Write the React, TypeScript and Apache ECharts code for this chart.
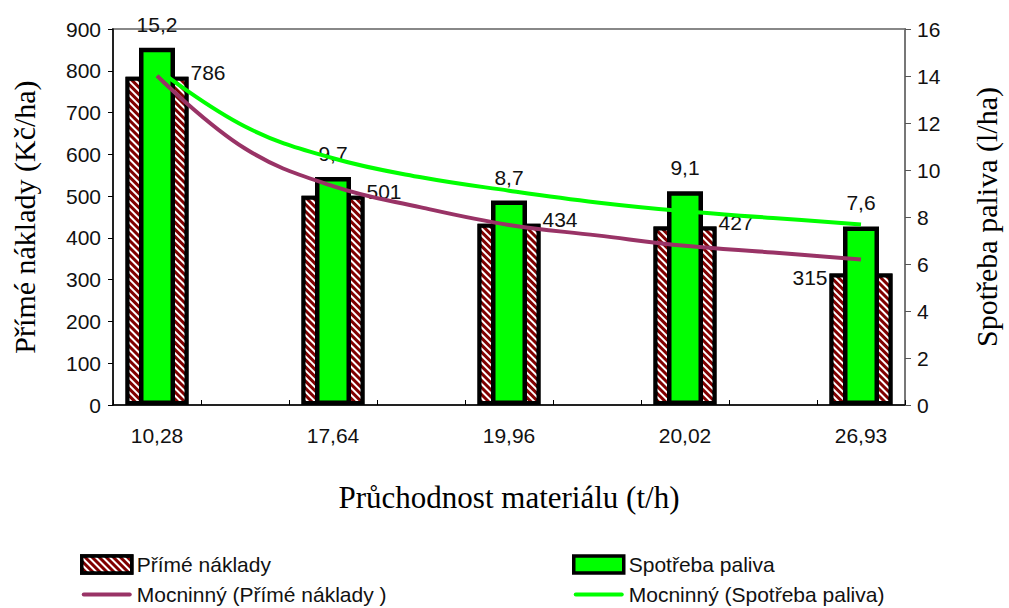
import React, { useEffect, useRef } from "react";
import * as echarts from "echarts";

const categories = ["10,28", "17,64", "19,96", "20,02", "26,93"];
const directCosts = [786, 501, 434, 427, 315];
const fuelConsumption = [15.2, 9.7, 8.7, 9.1, 7.6];
// trend lines at every half-step slot (9 slots)
const trendCosts = [788, 614, 524, 473, 431, 406, 381, 365, 348];
const trendFuel = [14.3, 11.85, 10.5, 9.69, 9.12, 8.62, 8.24, 7.96, 7.68];
const leftTicks = { min: 0, max: 900, interval: 100 };
const rightTicks = { min: 0, max: 16, interval: 2 };

const SANS = "Liberation Sans, Arial, sans-serif";
const SERIF = "Liberation Serif, Times New Roman, serif";
const LINE_ICON = "path://M2,0H48A2,2 0 0 1 48,4H2A2,2 0 0 1 2,0Z";

export default function App() {
  const ref = useRef<HTMLDivElement>(null);
  useEffect(() => {
    if (!ref.current) return;
    const chart = echarts.init(ref.current, undefined, { renderer: "svg" });
    const slots: string[] = [];
    categories.forEach((c, i) => {
      slots.push(c);
      if (i < categories.length - 1) slots.push("");
    });
    const spread = (arr: number[], itemFn?: (v: number, i: number) => any) => {
      const out: any[] = [];
      arr.forEach((v, i) => {
        out.push(itemFn ? itemFn(v, i) : v);
        if (i < arr.length - 1) out.push("-");
      });
      return out;
    };
    const costData = spread(directCosts, (v, i) =>
      i === directCosts.length - 1
        ? {
            value: v,
            label: {
              position: ["0%", 0],
              align: "right",
              offset: [-2, 4],
            },
          }
        : v
    );
    const fuelData = spread(fuelConsumption);

    const legendBase = {
      orient: "vertical",
      top: 549,
      height: 80,
      itemWidth: 50,
      itemHeight: 17,
      itemGap: 9,
      textStyle: { fontFamily: SANS, fontSize: 21, color: "#111" },
    };
    const rectBorder = { borderColor: "#000", borderWidth: 3.5 };

    const option: any = {
      animation: false,
      backgroundColor: "#ffffff",
      grid: {
        left: 113,
        right: 101,
        top: 29,
        bottom: 203,
        show: true,
        borderColor: "#888888",
        borderWidth: 2,
      },
      legend: [
        {
          ...legendBase,
          left: 75,
          data: [
            { name: "Přímé náklady", icon: "rect", itemStyle: rectBorder },
            { name: "Mocninný (Přímé náklady )", icon: LINE_ICON },
          ],
        },
        {
          ...legendBase,
          left: 567,
          data: [
            { name: "Spotřeba paliva", icon: "rect", itemStyle: rectBorder },
            { name: "Mocninný (Spotřeba paliva)", icon: LINE_ICON },
          ],
        },
      ],
      xAxis: [
        {
          type: "category",
          data: slots,
          boundaryGap: true,
          axisLine: { lineStyle: { color: "#000", width: 1.5 } },
          axisTick: {
            show: true,
            inside: true,
            length: 5,
            interval: 0,
            lineStyle: { color: "#000" },
          },
          axisLabel: {
            interval: 0,
            margin: 20,
            fontFamily: SANS,
            fontSize: 21,
            color: "#111",
          },
          name: "Průchodnost materiálu (t/h)",
          nameLocation: "middle",
          nameGap: 77,
          nameTextStyle: { fontFamily: SERIF, fontSize: 31, color: "#000" },
        },
        {
          type: "category",
          data: slots,
          boundaryGap: true,
          show: false,
          position: "bottom",
        },
      ],
      yAxis: [
        {
          type: "value",
          min: leftTicks.min,
          max: leftTicks.max,
          interval: leftTicks.interval,
          splitLine: { show: false },
          axisLine: { show: true, lineStyle: { color: "#000", width: 1.5 } },
          axisTick: { show: true, length: 5, lineStyle: { color: "#000" } },
          axisLabel: { fontFamily: SANS, fontSize: 21, color: "#111", margin: 12 },
          name: "Přímé náklady (Kč/ha)",
          nameLocation: "middle",
          nameRotate: 90,
          nameGap: 74,
          nameTextStyle: { fontFamily: SERIF, fontSize: 30, color: "#000" },
        },
        {
          type: "value",
          position: "right",
          min: rightTicks.min,
          max: rightTicks.max,
          interval: rightTicks.interval,
          splitLine: { show: false },
          axisLine: { show: true, lineStyle: { color: "#777", width: 2 } },
          axisTick: { show: true, length: 6, lineStyle: { color: "#555" } },
          axisLabel: { fontFamily: SANS, fontSize: 21, color: "#111", margin: 12 },
          name: "Spotřeba paliva (l/ha)",
          nameLocation: "middle",
          nameRotate: 90,
          nameGap: 66,
          nameTextStyle: { fontFamily: SERIF, fontSize: 30, color: "#000" },
        },
      ],
      series: [
        {
          name: "Přímé náklady",
          type: "bar",
          xAxisIndex: 0,
          yAxisIndex: 0,
          barWidth: 63,
          data: costData,
          itemStyle: {
            color: "#800000",
            borderColor: "#000",
            borderWidth: 4,
            decal: {
              symbol: "rect",
              symbolSize: 1,
              color: "#ffffff",
              dashArrayX: [1, 0],
              dashArrayY: [2, 3],
              rotation: Math.PI / 4,
            },
          },
          label: {
            show: true,
            position: ["100%", 0],
            align: "left",
            verticalAlign: "middle",
            offset: [2, -4],
            fontFamily: SANS,
            fontSize: 21,
            color: "#111",
          },
          z: 2,
        },
        {
          name: "Spotřeba paliva",
          type: "bar",
          xAxisIndex: 1,
          yAxisIndex: 1,
          barWidth: 36,
          data: fuelData,
          itemStyle: { color: "#00ff00", borderColor: "#000", borderWidth: 4.5 },
          label: {
            show: true,
            position: "top",
            distance: 13,
            fontFamily: SANS,
            fontSize: 21,
            color: "#111",
            formatter: (p: any) => String(p.value).replace(".", ","),
          },
          z: 3,
        },
        {
          name: "Mocninný (Přímé náklady )",
          type: "line",
          xAxisIndex: 0,
          yAxisIndex: 0,
          data: trendCosts,
          smooth: 0.4,
          symbol: "none",
          lineStyle: { color: "#993366", width: 4 },
          itemStyle: { color: "#993366" },
          z: 5,
        },
        {
          name: "Mocninný (Spotřeba paliva)",
          type: "line",
          xAxisIndex: 0,
          yAxisIndex: 1,
          data: trendFuel,
          smooth: 0.4,
          symbol: "none",
          lineStyle: { color: "#00ff00", width: 4 },
          itemStyle: { color: "#00ff00" },
          z: 4,
        },
      ],
    };
    chart.setOption(option);
    return () => chart.dispose();
  }, []);
  return (
    <div
      ref={ref}
      style={{ position: "fixed", left: 0, top: 0, width: 1009, height: 608 }}
    />
  );
}
